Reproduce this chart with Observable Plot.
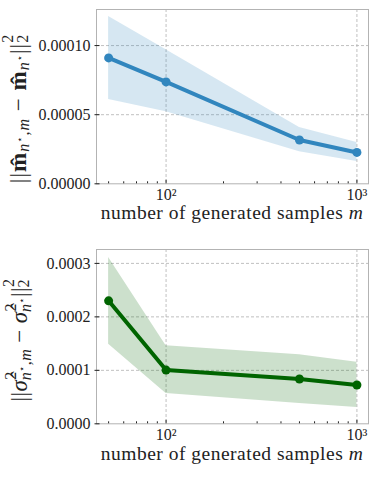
<!DOCTYPE html>
<html>
<head>
<meta charset="utf-8">
<script src="https://cdn.jsdelivr.net/npm/d3@7"></script>
<script src="https://cdn.jsdelivr.net/npm/@observablehq/plot@0.6"></script>
<style>
  html, body { margin: 0; padding: 0; background: white; }
  #chart svg { display: block; }
</style>
</head>
<body>
<div id="chart"></div>
<script>
// ---- data ----
const samples = [50, 100, 500, 1000];
const meanErr = [9.11e-5, 7.37e-5, 3.17e-5, 2.27e-5];
const meanLo  = [6.09e-5, 5.22e-5, 2.32e-5, 1.62e-5];
const meanHi  = [1.21e-4, 9.69e-5, 4.08e-5, 2.99e-5];
const varErr  = [2.30e-4, 1.005e-4, 8.37e-5, 7.25e-5];
const varLo   = [1.49e-4, 5.68e-5, 3.80e-5, 3.05e-5];
const varHi   = [3.11e-4, 1.46e-4, 1.29e-4, 1.15e-4];
const xMajor = [100, 1000];
const xMajorLabels = ["10²", "10³"];
const xMinor = [50, 60, 70, 80, 90, 200, 300, 400, 500, 600, 700, 800, 900];
const meanTicks = [0, 0.00005, 0.0001];
const varTicks = [0, 0.0001, 0.0002, 0.0003];
const xLabel = "number of generated samples ";

const W = 378, ML = 96, MR = 10, MT = 9;
const FONT = "'Liberation Serif', 'Times New Roman', serif";

function panel({height, marginBottom, yDomain, yTicks, yFmt, lo, hi, mid, color, fill}) {
  const data = samples.map((m, i) => ({m, lo: lo[i], hi: hi[i], y: mid[i]}));
  const plotW = W - ML - MR;
  const plotH = height - MT - marginBottom;
  const grid = {stroke: "#b0b0b0", strokeOpacity: 1, strokeWidth: 0.8, strokeDasharray: "3,2"};
  return Plot.plot({
    width: W, height, marginLeft: ML, marginRight: MR, marginTop: MT, marginBottom,
    style: {fontFamily: FONT, fontSize: "16px", color: "#222", background: "white", overflow: "visible"},
    x: {type: "log", domain: [43.2, 1150], label: null},
    y: {domain: yDomain, label: null},
    marks: [
      Plot.gridX(xMajor, grid),
      Plot.gridY(yTicks.slice(1), grid),
      Plot.areaY(data, {x: "m", y1: "lo", y2: "hi", fill, fillOpacity: 0.2}),
      Plot.line(data, {x: "m", y: "y", stroke: color, strokeWidth: 4}),
      Plot.dot(data, {x: "m", y: "y", fill: color, r: 4.5}),
      Plot.frame({stroke: "#b3b3b3", strokeWidth: 1}),
      Plot.tickY(yTicks, {y: d => d, stroke: "#222", insetLeft: -1.5, insetRight: plotW - 3.5}),
      Plot.tickX(xMajor, {x: d => d, stroke: "#222", insetTop: plotH - 3.5}),
      Plot.tickX(xMinor, {x: d => d, stroke: "#222", insetTop: plotH - 2}),
      Plot.axisY(yTicks, {tickSize: 0, tickPadding: 6, tickFormat: yFmt, fontSize: 16}),
      Plot.axisX(xMajor, {tickSize: 0, tickPadding: 5, fontSize: 16,
        tickFormat: d => xMajorLabels[xMajor.indexOf(d)]})
    ]
  });
}

function addText(svg, parts, attrs) {
  const t = d3.select(svg).append("text")
    .attr("font-family", FONT).attr("font-size", attrs.size || 23).attr("fill", "#222");
  for (const k in attrs.extra || {}) t.attr(k, attrs.extra[k]);
  parts.forEach(p => {
    const s = t.append("tspan").text(p.t);
    if (p.dy) s.attr("dy", p.dy);
    if (p.dx) s.attr("dx", p.dx);
    if (p.s) s.attr("font-size", p.s);
    if (p.b) s.attr("font-weight", "bold");
    if (p.i) s.attr("font-style", "italic");
    if (p.f) s.attr("font-family", p.f);
  });
  return t;
}

const STAR = "DejaVu Sans";

const topChart = panel({height: 240, marginBottom: 56.7, yDomain: [0, 0.0001261], yTicks: meanTicks,
  yFmt: d3.format(".5f"), lo: meanLo, hi: meanHi, mid: meanErr, color: "#3186be", fill: "#3186be"});
const botChart = panel({height: 237, marginBottom: 53.7, yDomain: [0, 0.000326], yTicks: varTicks,
  yFmt: d3.format(".4f"), lo: varLo, hi: varHi, mid: varErr, color: "#006400", fill: "#006400"});

// y labels
addText(topChart, [
  {t: "||"}, {t: "m\u0302", b: true},
  {t: "n", i: true, s: 16, dy: 3}, {t: "⋆", s: 10, dy: -6, f: STAR}, {t: ",", s: 16, dy: 6}, {t: "m", i: true, s: 16},
  {t: " − ", dy: -3}, {t: "m\u0302", b: true},
  {t: "n", i: true, s: 16, dy: 3}, {t: "⋆", s: 10, dy: -6, f: STAR},
  {t: "||", dy: 3}, {t: "2", s: 16, dy: -13}, {t: "2", s: 16, dx: -9, dy: 15}
], {extra: {transform: "translate(26,108.5) rotate(-90)", "text-anchor": "middle", "letter-spacing": "1px"}});

addText(botChart, [
  {t: "||"}, {t: "σ\u0302", i: true},
  {t: "2", s: 16, dy: -11}, {t: "n", i: true, s: 16, dx: -9, dy: 15}, {t: "⋆", s: 10, dy: -6, f: STAR},
  {t: ",", s: 16, dy: 6}, {t: "m", i: true, s: 16},
  {t: " − ", dy: -4}, {t: "σ\u0302", i: true},
  {t: "2", s: 16, dy: -11}, {t: "n", i: true, s: 16, dx: -9, dy: 15}, {t: "⋆", s: 10, dy: -6, f: STAR},
  {t: "||", dy: 2}, {t: "2", s: 16, dy: -13}, {t: "2", s: 16, dx: -9, dy: 15}
], {extra: {transform: "translate(27,100) rotate(-90)", "text-anchor": "middle", "letter-spacing": "0.4px"}});

// x labels
for (const [svg, yb] of [[topChart, 219], [botChart, 219.5]]) {
  addText(svg, [{t: xLabel}, {t: "m", i: true}],
    {size: 19.5, extra: {x: 232, y: yb, "text-anchor": "middle", "letter-spacing": "0.5px"}});
}

document.getElementById("chart").append(topChart, botChart);
</script>
</body>
</html>
